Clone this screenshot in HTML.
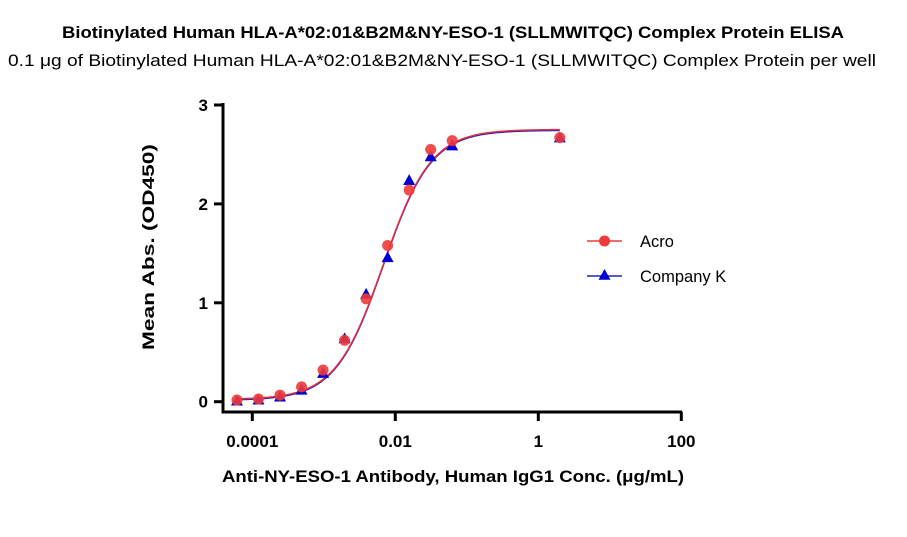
<!DOCTYPE html>
<html><head><meta charset="utf-8"><style>
body{margin:0;background:#fff;}
svg{display:block;font-family:"Liberation Sans",sans-serif;}
</style></head><body>
<svg width="907" height="537">
<text x="453" y="38" text-anchor="middle" font-weight="bold" font-size="16.5" textLength="782" lengthAdjust="spacingAndGlyphs">Biotinylated Human HLA-A*02:01&amp;B2M&amp;NY-ESO-1 (SLLMWITQC) Complex Protein ELISA</text>
<text x="442" y="66" text-anchor="middle" font-size="16.5" textLength="868" lengthAdjust="spacingAndGlyphs">0.1 μg of Biotinylated Human HLA-A*02:01&amp;B2M&amp;NY-ESO-1 (SLLMWITQC) Complex Protein per well</text>
<g id="plot"></g>
<text transform="translate(154,247) rotate(-90)" text-anchor="middle" font-weight="bold" font-size="16.5" textLength="206" lengthAdjust="spacingAndGlyphs">Mean Abs. (OD450)</text>
<text x="453" y="482" text-anchor="middle" font-weight="bold" font-size="16.5" textLength="462" lengthAdjust="spacingAndGlyphs">Anti-NY-ESO-1 Antibody, Human IgG1 Conc. (μg/mL)</text>
</svg>
<script>
const conc=[0.00006104,0.0001221,0.0002441,0.0004883,0.0009766,0.001953,0.003906,0.007813,0.01563,0.03125,0.0625,2];
const acro=[0.017,0.027,0.067,0.15,0.32,0.62,1.04,1.58,2.14,2.55,2.64,2.67];
const companyK=[0.01,0.02,0.05,0.12,0.29,0.64,1.09,1.46,2.24,2.48,2.59,2.67];
const xTicks=[0.0001,0.01,1,100];
const xTickLabels=["0.0001","0.01","1","100"];
const yTicks=[0,1,2,3];
const fitBottom=0.02, fitTop=2.75, fitEC50=0.0068, fitHill=1.3;
const NS="http://www.w3.org/2000/svg";
const g=document.getElementById('plot');
const X=v=>252.3+(Math.log10(v)+4)*71.5;
const Y=v=>401.7-v*98.9;
function mk(t,a,p){const e=document.createElementNS(NS,t);for(const k in a)e.setAttribute(k,a[k]);(p||g).appendChild(e);return e;}
let e=mk('line',{x1:223,y1:103,x2:223,y2:413,stroke:'#000','stroke-width':3});


e=mk('line',{x1:221.5,y1:412,x2:X(100)+1,y2:412,stroke:'#000','stroke-width':3});


yTicks.forEach(v=>{
 let t=mk('line',{x1:214,y1:Y(v),x2:223,y2:Y(v),stroke:'#000','stroke-width':3});
 
 
 let l=mk('text',{x:208,y:Y(v)+6,'text-anchor':'end','font-size':17,'font-weight':'bold'});
 l.textContent=v;
 
 
});
xTicks.forEach((v,i)=>{
 let t=mk('line',{x1:X(v),y1:412,x2:X(v),y2:421,stroke:'#000','stroke-width':3});
 
 
 let l=mk('text',{x:X(v),y:447,'text-anchor':'middle','font-size':17,'font-weight':'bold'});
 l.textContent=xTickLabels[i];
 
 
});
function curve(color,shift,name){
 let d='';const a=Math.log10(conc[0]),b=Math.log10(conc[conc.length-1]);
 for(let i=0;i<=200;i++){const lx=a+(b-a)*i/200;const v=fitBottom+(fitTop-fitBottom)/(1+Math.pow(fitEC50/Math.pow(10,lx),fitHill));
  d+=(i?'L':'M')+X(Math.pow(10,lx)).toFixed(2)+','+(Y(v)+shift).toFixed(2);}
 let p=mk('path',{d:d,fill:'none',stroke:color,'stroke-width':1.5});
 
 
}
curve('#2020c0',0.6,'company-k-fit-curve');
curve('#e03040',-0.3,'acro-fit-curve');
function tri(x,y,s){return `${x},${y-s} ${x-s},${y+s*0.8} ${x+s},${y+s*0.8}`;}
conc.forEach((c,i)=>{
 let t=mk('polygon',{points:tri(X(c),Y(companyK[i]),6),fill:'#0000d0'});
 
 
});
conc.forEach((c,i)=>{
 let p=mk('circle',{cx:X(c),cy:Y(acro[i]),r:5.5,fill:'#f03a3a','fill-opacity':0.9});
 
 
});
let lg=mk('g',{});


e=mk('line',{x1:587,y1:241,x2:622,y2:241,stroke:'#f03a3a','stroke-width':1.5},lg);


e=mk('circle',{cx:604.5,cy:241,r:5.5,fill:'#f03a3a'},lg);


e=mk('text',{x:640,y:247,'font-size':16.5},lg);e.textContent='Acro';


e=mk('line',{x1:587,y1:276,x2:622,y2:276,stroke:'#2020c0','stroke-width':1.5},lg);


e=mk('polygon',{points:tri(604.5,275,6),fill:'#0000d0'},lg);


e=mk('text',{x:640,y:282,'font-size':16.5},lg);e.textContent='Company K';


</script>
</body></html>
